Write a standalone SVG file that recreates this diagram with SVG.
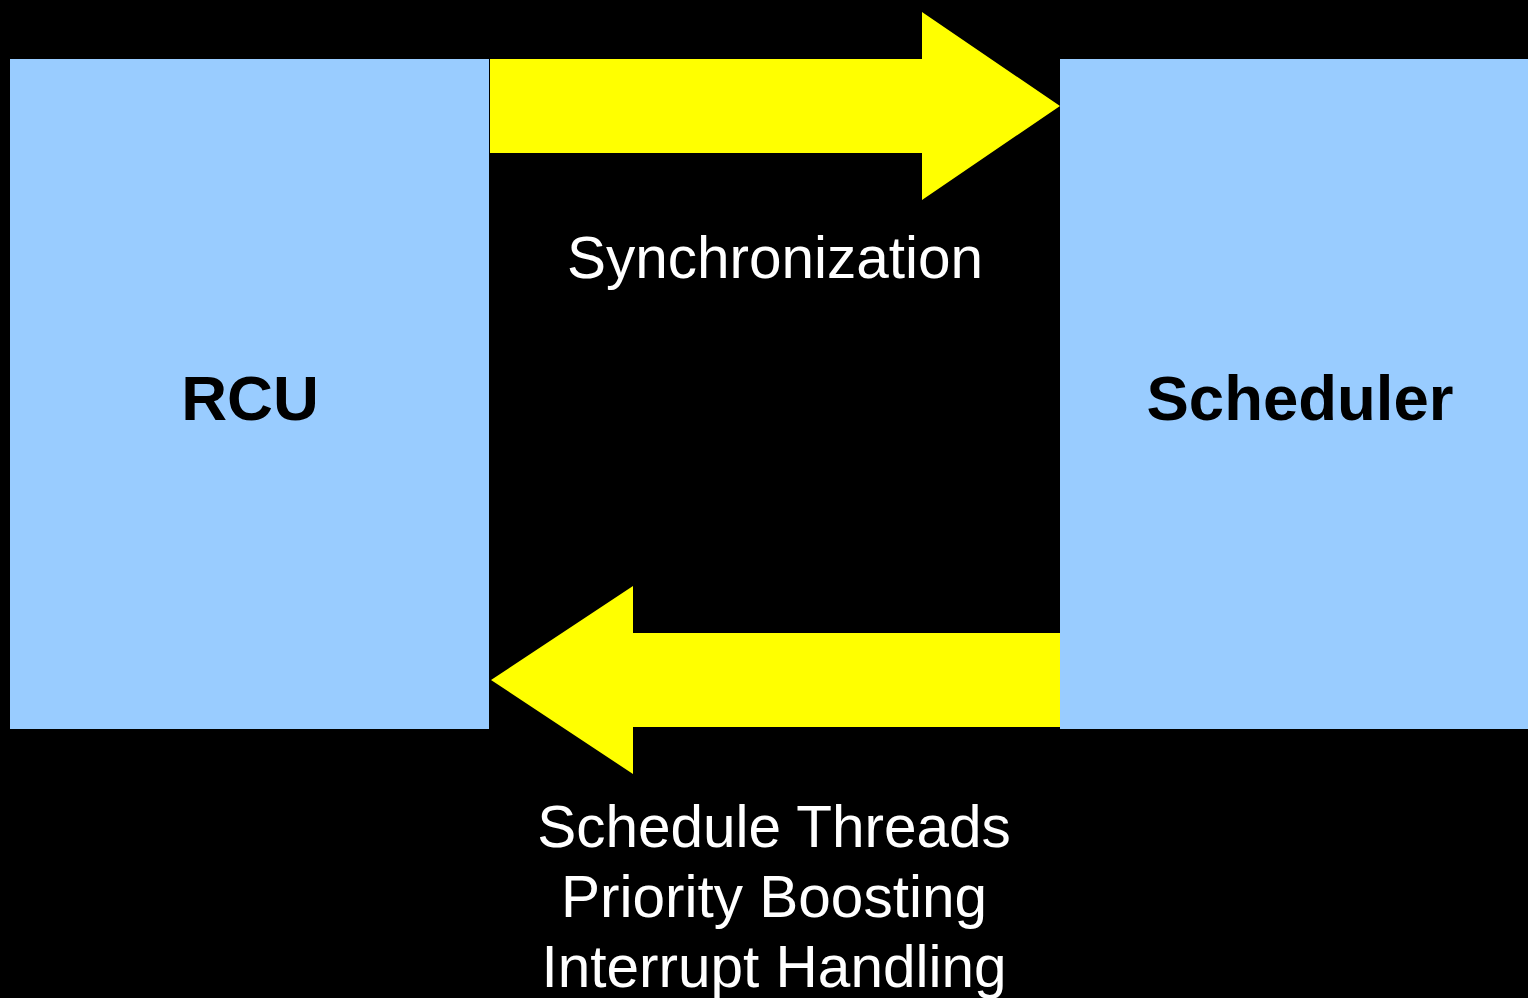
<svg xmlns="http://www.w3.org/2000/svg" width="1528" height="998" viewBox="0 0 1528 998">
<style>
.box{fill:#99ccff;}
.arrow{fill:#ffff00;}
.title{font-family:"Liberation Sans",Arial,sans-serif;font-weight:bold;font-size:63.5px;fill:#000;text-anchor:middle;}
.lbl{font-family:"Liberation Sans",Arial,sans-serif;font-size:58.5px;fill:#fff;text-anchor:middle;}
</style>
<rect x="0" y="0" width="1528" height="998" fill="#000"/>
<g id="rcu">
<rect class="box" x="10" y="59" width="479" height="670"/>
<text class="title" x="250" y="420">RCU</text>
</g>
<g id="scheduler">
<rect class="box" x="1060" y="59" width="480" height="670"/>
<text class="title" x="1300" y="420">Scheduler</text>
</g>
<g id="connectors">
<g id="sync">
<polygon class="arrow" points="490,59 922,59 922,12 1060,106 922,200 922,153 490,153"/>
<text class="lbl" x="775" y="278">Synchronization</text>
</g>
<g id="services">
<polygon class="arrow" points="1060,633 633,633 633,586 491,680 633,774 633,727 1060,727"/>
<text class="lbl" x="774" y="847">Schedule Threads</text>
<text class="lbl" x="774" y="917">Priority Boosting</text>
<text class="lbl" x="774" y="987">Interrupt Handling</text>
</g>
</g>
</svg>
